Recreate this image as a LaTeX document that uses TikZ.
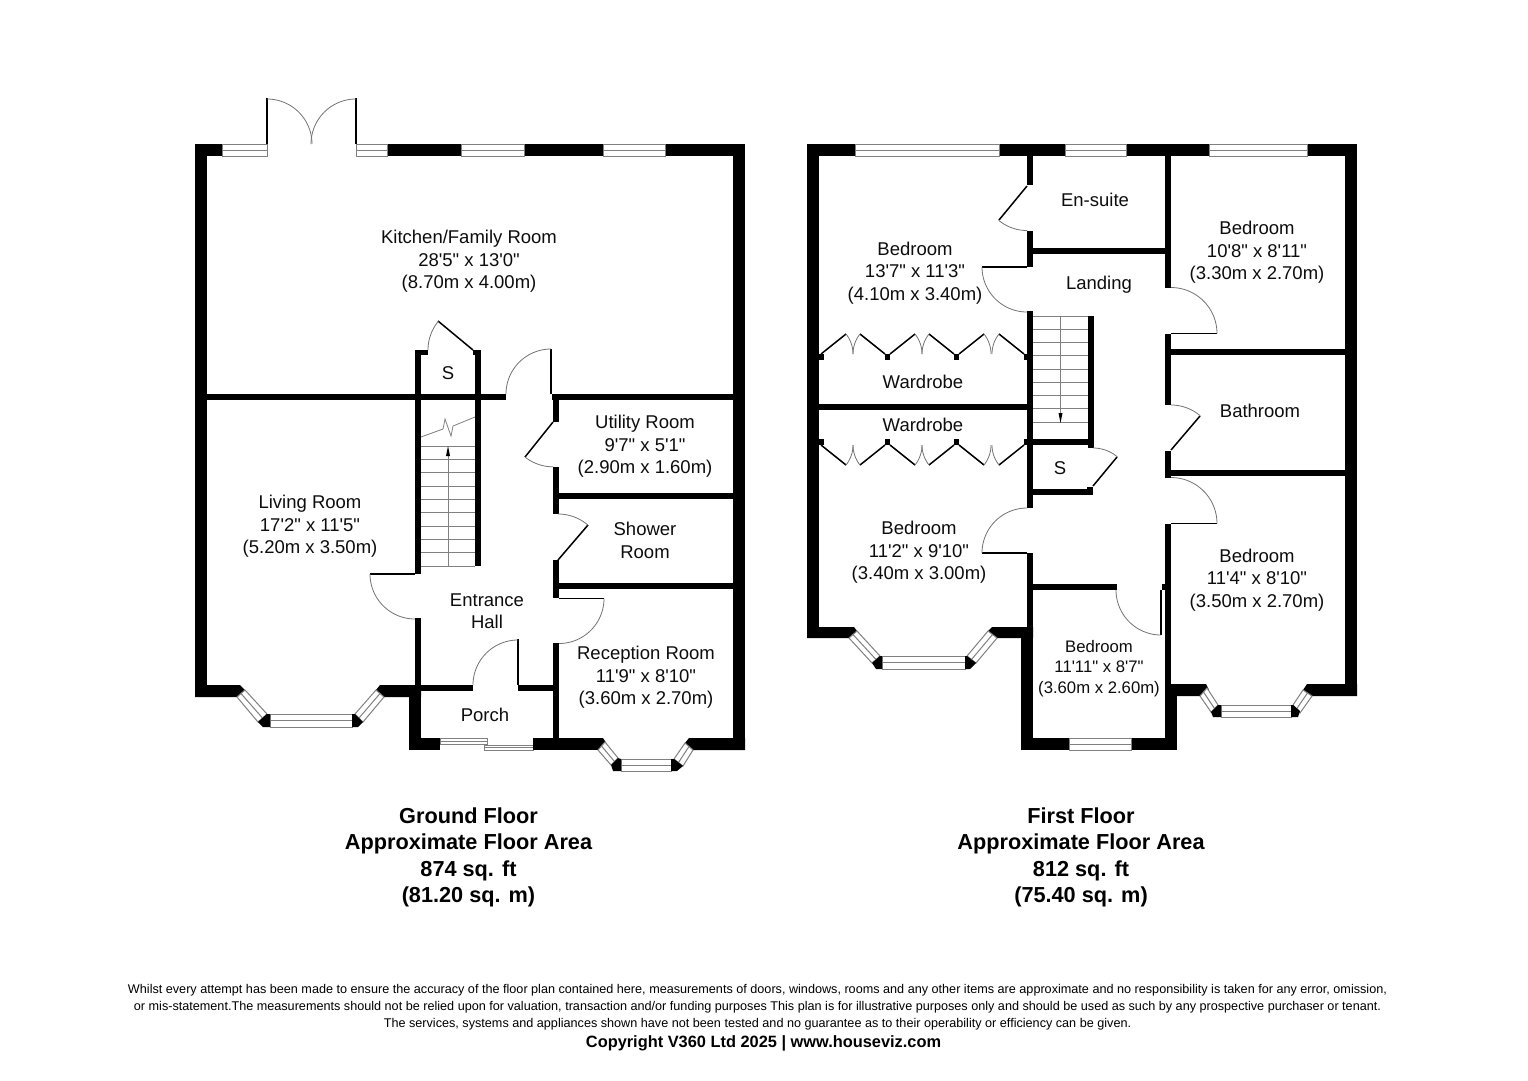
\documentclass[tikz,border=0pt]{standalone}
\usepackage{fontspec}
\usetikzlibrary{calc}
\newfontfamily\lib{Liberation Sans}
\tikzset{
  wallfill/.style={fill=black,draw=none},
  leaf/.style={draw=black,line width=1.5pt},
  swing/.style={draw=black!55,line width=0.8pt},
  glass/.style={draw=black!50,line width=1pt,fill=white},
  tread/.style={draw=black!50,line width=0.8pt},
  room/.style={font=\lib\fontsize{18.5}{22.4}\selectfont,align=center,inner sep=0pt,text=black!95},
  smallroom/.style={font=\lib\fontsize{16.7}{20.5}\selectfont,align=center,inner sep=0pt,text=black!95},
  headline/.style={font=\lib\bfseries\fontsize{21.7}{26.4}\selectfont,align=center,inner sep=0pt},
  fine/.style={font=\lib\fontsize{12.64}{17}\selectfont,align=center,inner sep=0pt},
  rights/.style={font=\lib\bfseries\fontsize{16.37}{19}\selectfont,align=center,inner sep=0pt}
}
\newcommand{\wl}[4]{\fill[wallfill] (#1,#2) rectangle (#3,#4);}
\newcommand{\win}[4]{\path[glass] (#1,#2) rectangle (#3,#4);
  \draw[glass] (#1,{(#2+#4)/2}) -- (#3,{(#2+#4)/2});}
\newcommand{\dwin}[4]{\path[glass] #1 -- #2 -- #3 -- #4 -- cycle;
  \draw[glass] ($#1!.5!#4$) -- ($#2!.5!#3$);}
\newcommand{\darc}[5]{\draw[swing] plot[domain=#4:#5,samples=25] ({#1+#3*cos(\x)},{#2+#3*sin(\x)});}
\begin{document}
\begin{tikzpicture}[x=1pt,y=-1pt]
\useasboundingbox (0,0) rectangle (1528,1080);
\fill[white] (0,0) rectangle (1528,1080);

%% ---------------- GROUND FLOOR ----------------
% top wall
\wl{195}{144}{222}{156}\wl{387}{144}{461}{156}\wl{524}{144}{603}{156}\wl{665}{144}{745}{156}
\win{222}{144}{267}{156}\win{356}{144}{387}{156}\win{461}{144}{524}{156}\win{603}{144}{665}{156}
% french doors
\draw[leaf] (267,98) -- (267,144);
\draw[leaf] (356,98) -- (356,144);
\darc{267}{144}{45}{270}{360}
\darc{356}{144}{45}{270}{180}
% outer
\wl{195}{144}{207}{697}
\wl{733}{144}{745}{750}
% living bay
\fill[wallfill] (195,685) -- (240,685) -- (245,690) -- (237,697) -- (195,697) -- cycle;
\fill[wallfill] (376,690) -- (380,685) -- (421,685) -- (421,697) -- (384,697) -- cycle;
\dwin{(245,690)}{(267,714)}{(258,722)}{(237,697)}
\dwin{(376,690)}{(355,714)}{(363,722)}{(384,697)}
\win{270}{714}{352}{727}
\fill[wallfill] (258,722) -- (267,714) -- (270,714) -- (270,727) -- (263,727) -- cycle;
\fill[wallfill] (352,714) -- (355,714) -- (363,722) -- (358,727) -- (352,727) -- cycle;
% kitchen lower wall
\wl{207}{394}{506}{400}\wl{552}{394}{733}{400}
\draw[leaf] (551,349) -- (551,394);
\darc{551}{394}{45}{270}{180}
% stairs walls
\wl{415}{350}{421}{574}\wl{475}{350}{481}{566}
\wl{415}{350}{428}{355}\wl{473}{350}{481}{355}
\draw[leaf] (473,350) -- (438,321);
\darc{473}{350}{45}{180}{219.6}
\foreach \yy in {446,459.33,472.67,486,499.33,512.67,526,539.33,552.67,566}
  \draw[tread] (421,\yy) -- (475,\yy);
\draw[tread] (448,566) -- (448,452);
\fill[black] (448,446) -- (450,456) -- (446,456) -- cycle;
\draw[tread] (421,437) -- (443,429) -- (445,419) -- (451,436) -- (453,426) -- (475,417);
% living door
\draw[leaf] (370,574) -- (415,574);
\darc{415}{574}{45}{180}{90}
\wl{415}{618}{421}{697}
% porch
\wl{409}{685}{421}{750}\wl{409}{738}{440}{750}
\wl{421}{685}{473}{691}\wl{518}{685}{554}{691}
\draw[leaf] (518,639) -- (518,685);
\darc{518}{685}{45}{270}{180}
\win{440}{738}{487}{744}\win{484}{745}{533}{750}
\wl{533}{738}{603}{750}
% hall right wall
\wl{553}{394}{559}{422}\wl{553}{467}{559}{514}\wl{553}{560}{559}{598}\wl{553}{643}{559}{740}
\draw[leaf] (553,422) -- (525,457);
\darc{553}{422}{44.8}{90}{128.7}
\draw[leaf] (558,560) -- (588,525);
\darc{558}{560}{46}{270}{310.6}
\wl{559}{493}{733}{499}\wl{559}{583}{733}{589}
\draw[leaf] (559,598.5) -- (604,598.5);
\darc{559}{598.5}{45}{0}{90}
% reception bay
\fill[wallfill] (603,738) -- (607,744) -- (603,750) -- (600,750) -- (600,738) -- cycle;
\fill[wallfill] (685,743) -- (689,738) -- (745,738) -- (745,750) -- (693,750) -- cycle;
\dwin{(605,742)}{(618,758)}{(611,765)}{(598,750)}
\dwin{(685,743)}{(674,759)}{(683,766)}{(693,750)}
\win{621}{759}{671}{771}
\fill[wallfill] (611,765) -- (618,758) -- (621,759) -- (621,771) -- (613,771) -- cycle;
\fill[wallfill] (671,759) -- (674,759) -- (683,766) -- (677,771) -- (671,771) -- cycle;

%% ---------------- FIRST FLOOR ----------------
\wl{807}{144}{855}{156}\wl{999}{144}{1065}{156}\wl{1126}{144}{1209}{156}\wl{1307}{144}{1357}{156}
\win{855}{144}{999}{156}\win{1065}{144}{1126}{156}\win{1209}{144}{1307}{156}
\wl{807}{144}{819}{638}
\wl{1345}{144}{1357}{696}
% left bay
\fill[wallfill] (807,627) -- (854,627) -- (857,631) -- (849,638) -- (807,638) -- cycle;
\fill[wallfill] (988,631) -- (992,627) -- (1033,627) -- (1033,638) -- (997,638) -- cycle;
\dwin{(857,631)}{(880,656)}{(872,663)}{(849,638)}
\dwin{(988,631)}{(967,656)}{(976,663)}{(997,638)}
\win{882}{656}{965}{669}
\fill[wallfill] (872,663) -- (880,656) -- (882,656) -- (882,669) -- (876,669) -- cycle;
\fill[wallfill] (965,656) -- (967,656) -- (976,663) -- (970,669) -- (965,669) -- cycle;
% central wall
\wl{1027}{156}{1033}{185}\wl{1027}{231}{1033}{267}\wl{1027}{311}{1033}{508}\wl{1027}{553}{1033}{627}
\draw[leaf] (1027,186) -- (999,220);
\darc{1027}{186}{44.5}{90}{129.5}
\wl{1033}{248}{1165}{254}
\draw[leaf] (982,267) -- (1027,267);
\darc{1027}{267}{45}{180}{90}
\draw[leaf] (982,553) -- (1027,553);
\darc{1027}{553}{45}{270}{180}
% wardrobes
\wl{819}{404}{1027}{410}
\foreach \aa/\bb in {821/885,890/954,959/1024}{
  \draw[leaf] (\aa,354) -- (\aa+25,334);
  \draw[leaf] (\bb,354) -- (\bb-25,334);
  \darc{\aa}{354}{32}{321.3}{360}
  \darc{\bb}{354}{32}{218.7}{180}
  \draw[leaf] (\aa,445) -- (\aa+25,465);
  \draw[leaf] (\bb,445) -- (\bb-25,465);
  \darc{\aa}{445}{32}{38.7}{0}
  \darc{\bb}{445}{32}{141.3}{180}
}
\foreach \pp in {819,885,954,1024}{
  \wl{\pp}{354}{\pp+5}{360}
  \wl{\pp}{439}{\pp+5}{445}
}
% stairs
\foreach \yy in {316,329.25,342.5,355.75,369,382.25,395.5,408.75,422}
  \draw[tread] (1033,\yy) -- (1088,\yy);
\draw[tread] (1060.5,316) -- (1060.5,416);
\fill[black] (1060.5,423) -- (1062.5,413) -- (1058.5,413) -- cycle;
\wl{1088}{316}{1094}{448}
\wl{1033}{439}{1088}{445}
% store
\wl{1033}{489}{1093}{495}\wl{1087}{487}{1093}{495}
\draw[leaf] (1093,486) -- (1117,457);
\darc{1093}{486}{38}{270}{310}
% right hand wall
\wl{1165}{156}{1171}{288}\wl{1165}{334}{1171}{405}\wl{1165}{451}{1171}{478}\wl{1165}{524}{1171}{696}
\draw[leaf] (1171,333.5) -- (1217,333.5);
\darc{1171}{333.5}{46}{270}{360}
\wl{1171}{349}{1345}{355}
\draw[leaf] (1171,450) -- (1200,416);
\darc{1171}{450}{45}{270}{310.5}
\wl{1171}{470}{1345}{476}
\draw[leaf] (1171,523.5) -- (1217,523.5);
\darc{1171}{523.5}{46}{270}{360}
% small bedroom
\wl{1033}{584}{1117}{590}
\wl{1162}{584}{1165}{590}
\draw[leaf] (1161,590) -- (1161,635);
\darc{1161}{590}{45}{90}{180}
\wl{1021}{638}{1033}{750}\wl{1021}{738}{1069}{750}\wl{1131}{738}{1177}{750}
\win{1069}{738}{1131}{750}
\wl{1165}{684}{1177}{750}
% right bay
\fill[wallfill] (1171,684) -- (1206,684) -- (1209,690) -- (1203,696) -- (1171,696) -- cycle;
\fill[wallfill] (1303,690) -- (1307,684) -- (1357,684) -- (1357,696) -- (1312,696) -- cycle;
\dwin{(1207,688)}{(1218,705)}{(1211,712)}{(1200,696)}
\dwin{(1303,690)}{(1293,705)}{(1300,713)}{(1312,696)}
\win{1221}{705}{1291}{717}
\fill[wallfill] (1211,712) -- (1218,705) -- (1221,705) -- (1221,717) -- (1213,717) -- cycle;
\fill[wallfill] (1291,705) -- (1293,705) -- (1300,711) -- (1298,717) -- (1291,717) -- cycle;

%% ---------------- TEXT ----------------
\node[room] (kitchen) at (469,261.5) {Kitchen/Family Room\\28'5" x 13'0"\\(8.70m x 4.00m)};
\node[room] (living) at (310,526.5) {Living Room\\17'2" x 11'5"\\(5.20m x 3.50m)};
\node[room] (utility) at (645,446.5) {Utility Room\\9'7" x 5'1"\\(2.90m x 1.60m)};
\node[room] (shower) at (645,540.5) {Shower\\Room};
\node[room] (hall) at (487,611) {Entrance\\Hall};
\node[room] (reception) at (646,677.5) {Reception Room\\11'9" x 8'10"\\(3.60m x 2.70m)};
\node[room] (porch) at (485,715) {Porch};
\node[room] (storeA) at (448,373) {S};
\node[room] (bedA) at (915,273) {Bedroom\\13'7" x 11'3"\\(4.10m x 3.40m)};
\node[room] (ensuite) at (1095,200) {En-suite};
\node[room] (bedB) at (1257,252.5) {Bedroom\\10'8" x 8'11"\\(3.30m x 2.70m)};
\node[room] (landing) at (1099,285) {Landing};
\node[room] (wardA) at (923,382) {Wardrobe};
\node[room] (wardB) at (923,425) {Wardrobe};
\node[room] (bath) at (1260,411) {Bathroom};
\node[room] (storeB) at (1060,468) {S};
\node[room] (bedC) at (919,552.5) {Bedroom\\11'2" x 9'10"\\(3.40m x 3.00m)};
\node[room] (bedD) at (1257,580) {Bedroom\\11'4" x 8'10"\\(3.50m x 2.70m)};
\node[smallroom] (bedE) at (1099,668.5) {Bedroom\\11'11" x 8'7"\\(3.60m x 2.60m)};
\node[headline] (groundtitle) at (468.5,857.5) {Ground Floor\\Approximate Floor Area\\874 sq. ft\\(81.20 sq. m)};
\node[headline] (firsttitle) at (1081,857.5) {First Floor\\Approximate Floor Area\\812 sq. ft\\(75.40 sq. m)};
\node[fine] (disclaimer) at (757.5,1007) {Whilst every attempt has been made to ensure the accuracy of the floor plan contained here, measurements of doors, windows, rooms and any other items are approximate and no responsibility is taken for any error, omission,\\or mis-statement.The measurements should not be relied upon for valuation, transaction and/or funding purposes This plan is for illustrative purposes only and should be used as such by any prospective purchaser or tenant.\\The services, systems and appliances shown have not been tested and no guarantee as to their operability or efficiency can be given.};
\node[rights] (copyright) at (763.5,1043) {Copyright V360 Ltd 2025 | www.houseviz.com};
\end{tikzpicture}
\end{document}
